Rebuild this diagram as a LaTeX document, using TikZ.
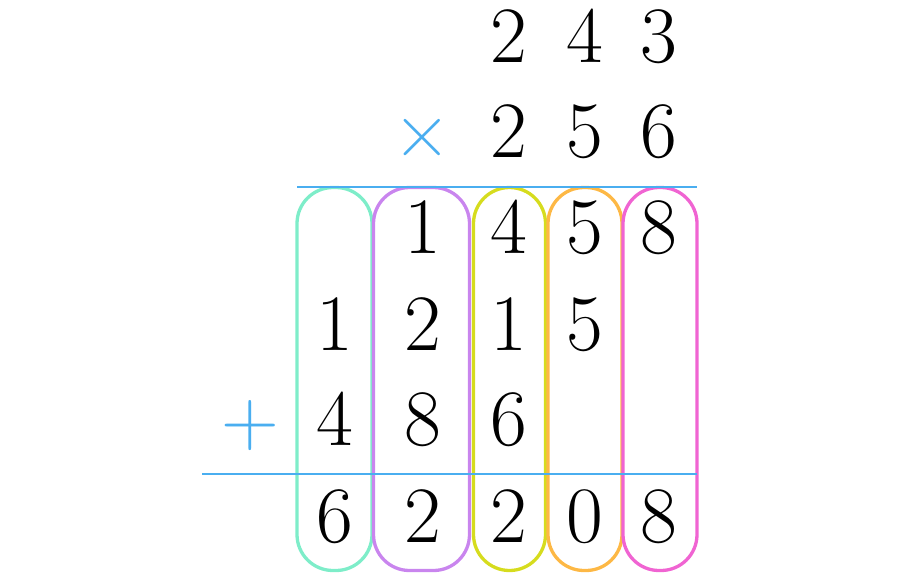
\documentclass[tikz,border=0pt]{standalone}
\usetikzlibrary{positioning}
\definecolor{rulebl}{HTML}{4AAEF0}
\definecolor{colA}{HTML}{7EEDC9}
\definecolor{colB}{HTML}{C985EE}
\definecolor{colC}{HTML}{D6DC1E}
\definecolor{colD}{HTML}{FDB845}
\definecolor{colE}{HTML}{F064D2}
\tikzset{
  digit/.style={anchor=base,inner sep=0pt,font=\fontsize{80}{96}\selectfont},
  sign/.style={digit,text=rulebl},
  pill/.style={draw=#1,line width=3.3pt,rounded corners=36pt,minimum width=74pt,minimum height=383pt,inner sep=0pt},
  rule/.style={draw=rulebl,line width=1.5pt}
}
\begin{document}
\begin{tikzpicture}[x=1pt,y=-1pt]
  \useasboundingbox (0,0) rectangle (900,579);

  % columns
  \begin{scope}
    \node[pill=colA,minimum width=75pt] (c1) at (334.5,379) {};
    \node[pill=colB,minimum width=96pt] (c2) at (421.5,379) {};
    \node[pill=colC,minimum width=72pt] (c3) at (509.5,379) {};
    \node[pill=colD] (c4) at (585,379) {};
    \node[pill=colE] (c5) at (660,379) {};
  \end{scope}

  % rules
  \coordinate (r1a) at (297,187);
  \coordinate (r1b) at (697,187);
  \coordinate (r2a) at (202,474);
  \coordinate (r2b) at (697,474);
  \path[rule] (r1a) -- (r1b);
  \path[rule] (r2a) -- (r2b);

  \begin{scope}[every node/.style={digit}]
    \node (a3) at (509,62) {2};
    \node (a2) at (585,62) {4};
    \node (a1) at (659,62) {3};

    \node (b3) at (509,157) {2};
    \node (b2) at (585,157) {5};
    \node (b1) at (659,157) {6};

    \node (p14) at (423,253) {1};
    \node (p13) at (509,253) {4};
    \node (p12) at (585,253) {5};
    \node (p11) at (659,253) {8};

    \node (p25) at (335,350) {1};
    \node (p24) at (423,350) {2};
    \node (p23) at (509,350) {1};
    \node (p22) at (585,350) {5};

    \node (p36) at (335,445) {4};
    \node (p35) at (423,445) {8};
    \node (p34) at (509,445) {6};

    \node (s5) at (335,542) {6};
    \node (s4) at (423,542) {2};
    \node (s3) at (509,542) {2};
    \node (s2) at (585,542) {0};
    \node (s1) at (659,542) {8};
  \end{scope}

  \node[sign] (times) at (422,157) {×};
  \node[sign] (plus) at (250,445) {+};

\end{tikzpicture}
\end{document}
